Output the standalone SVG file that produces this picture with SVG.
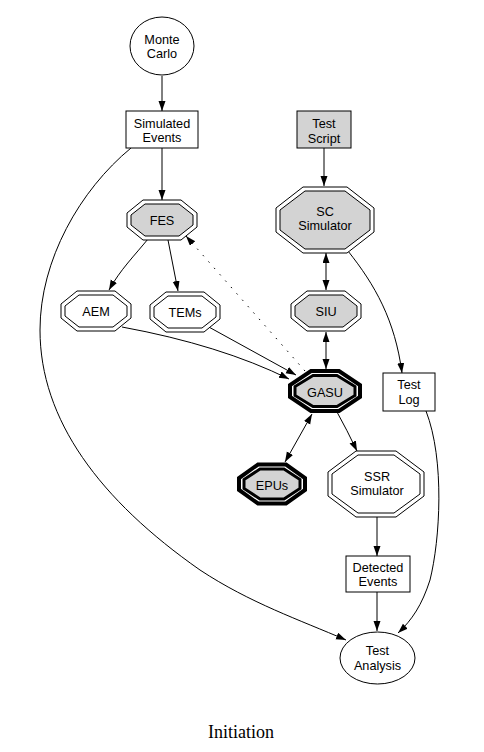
<svg xmlns="http://www.w3.org/2000/svg" width="484" height="752" viewBox="0 0 484 752">
<style>
text{font-family:"Liberation Sans",Arial,sans-serif;font-size:12.7px;fill:#000;text-anchor:middle}
.t{font-family:"Liberation Serif","Times New Roman",serif;font-size:18px}
.n{fill:#fff;stroke:#000;stroke-width:1}
.g{fill:#d3d3d3;stroke:#000;stroke-width:1}
.bo{fill:#fff;stroke:#000;stroke-width:4}
.bi{fill:#d3d3d3;stroke:#000;stroke-width:3}
.e{fill:none;stroke:#000;stroke-width:1;marker-end:url(#ah)}
.d{fill:none;stroke:#000;stroke-width:1;marker-end:url(#ah);marker-start:url(#ah)}
</style>
<defs>
<marker id="ah" markerUnits="userSpaceOnUse" markerWidth="11" markerHeight="8" refX="10" refY="3.5" orient="auto-start-reverse">
<path d="M0,0 L10,3.5 L0,7 z" fill="#000"/>
</marker>
</defs>
<rect width="484" height="752" fill="#fff"/>
<g id="edges">
<path class="e" d="M162,76 L162,111"/>
<path class="e" d="M162,148 L162,200"/>
<path class="e" d="M131,148 C80,190 40,260 40,330 C40,420 100,500 200,570 C250,603 300,620 346,640"/>
<path class="e" d="M324,148 L324,186"/>
<path class="e" d="M148,239 C135,255 120,270 109,290"/>
<path class="e" d="M168,240 L178,291"/>
<path class="d" d="M326,253 L326,290"/>
<path class="d" d="M326,332 L326,369"/>
<path class="e" d="M305,371 L186,236" stroke-dasharray="1.5,7"/>
<path class="e" d="M122,327 Q220,345 289,379"/>
<path class="e" d="M207,326 L296,375"/>
<path class="d" d="M312,414 L285,462" stroke-width="2"/>
<path class="e" d="M337,412 Q347,430 357,451"/>
<path class="e" d="M348,251 C375,285 395,320 402,373"/>
<path class="e" d="M426,411 C445,460 440,540 430,580 C422,605 412,620 398,633"/>
<path class="e" d="M377,517 L377,556"/>
<path class="e" d="M377,592 L377,631"/>
</g>
<g id="monte_carlo">
<ellipse class="n" cx="162" cy="46" rx="32" ry="29"/>
<text x="162" y="44">Monte</text><text x="162" y="58">Carlo</text>
</g>
<g id="simulated_events">
<rect class="n" x="126" y="111" width="72" height="37"/>
<text x="162" y="128">Simulated</text><text x="162" y="142">Events</text>
</g>
<g id="test_script">
<rect class="g" x="297" y="111" width="54" height="37"/>
<text x="324" y="128">Test</text><text x="324" y="143">Script</text>
</g>
<g id="sc_simulator">
<polygon class="n" points="303,187 347,187 374,208 374,232 347,253 303,253 276,232 276,208"/>
<polygon class="g" points="305,191 345,191 370,210 370,230 345,249 305,249 280,230 280,210"/>
<text x="325" y="216">SC</text><text x="325" y="230">Simulator</text>
</g>
<g id="fes">
<polygon class="n" points="143,200 181,200 197,213 197,227 181,240 143,240 127,227 127,213"/>
<polygon class="g" points="145,204 179,204 193,215 193,225 179,236 145,236 131,225 131,215"/>
<text x="162" y="224.5">FES</text>
</g>
<g id="aem">
<polygon class="n" points="77,291 115,291 131,304 131,318 115,331 77,331 61,318 61,304"/>
<polygon class="n" points="79,295 113,295 127,306 127,316 113,327 79,327 65,316 65,306"/>
<text x="96" y="316">AEM</text>
</g>
<g id="tems">
<polygon class="n" points="166,292 204,292 220,305 220,319 204,332 166,332 150,319 150,305"/>
<polygon class="n" points="168,296 202,296 216,307 216,317 202,328 168,328 154,317 154,307"/>
<text x="185" y="316.5">TEMs</text>
</g>
<g id="siu">
<polygon class="n" points="307,291 345,291 361,304 361,318 345,331 307,331 291,318 291,304"/>
<polygon class="g" points="309,295 343,295 357,306 357,316 343,327 309,327 295,316 295,306"/>
<text x="326" y="315.5">SIU</text>
</g>
<g id="gasu">
<polygon class="bo" points="311,371 339,371 360,385 360,397 339,411 311,411 290,397 290,385"/>
<polygon class="bi" points="313,375.5 337,375.5 355,386.5 355,395.5 337,406.5 313,406.5 295,395.5 295,386.5"/>
<text x="325" y="397">GASU</text>
</g>
<g id="test_log">
<rect class="n" x="383" y="373" width="52" height="38"/>
<text x="409" y="389">Test</text><text x="409" y="404">Log</text>
</g>
<g id="epus">
<polygon class="bo" points="258,464.5 286,464.5 305,478 305,490 286,503.5 258,503.5 239,490 239,478"/>
<polygon class="bi" points="260,469 284,469 300,479.5 300,488.5 284,499 260,499 244,488.5 244,479.5"/>
<text x="272" y="490">EPUs</text>
</g>
<g id="ssr_simulator">
<polygon class="n" points="356,451 396,451 424,472 424,496 396,517 356,517 328,496 328,472"/>
<polygon class="n" points="358,455 394,455 420,474 420,494 394,513 358,513 332,494 332,474"/>
<text x="377" y="481">SSR</text><text x="377" y="495">Simulator</text>
</g>
<g id="detected_events">
<rect class="n" x="346" y="556" width="64" height="36"/>
<text x="378" y="572">Detected</text><text x="378" y="586">Events</text>
</g>
<g id="test_analysis">
<ellipse class="n" cx="377.5" cy="658" rx="37.5" ry="26"/>
<text x="377.5" y="655">Test</text><text x="377.5" y="670">Analysis</text>
</g>
<text class="t" x="241" y="738">Initiation</text>
</svg>
